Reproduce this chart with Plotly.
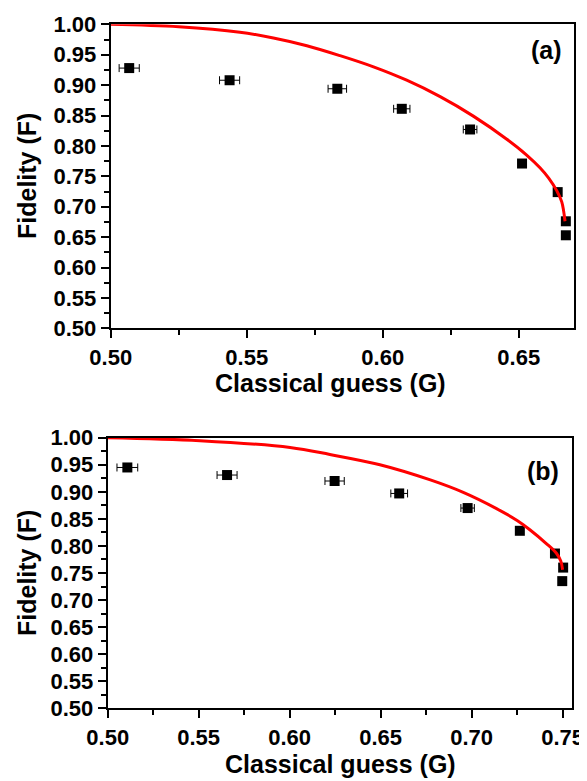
import plotly.graph_objects as go

# ---- panel (a): measured points ----
G_A = [0.5068, 0.5437, 0.5833, 0.6070, 0.6321, 0.6512, 0.6643, 0.6673, 0.6673]
F_A = [0.928, 0.908, 0.894, 0.861, 0.827, 0.771, 0.724, 0.676, 0.653]
G_A_ERR = [0.0037, 0.0037, 0.0034, 0.0030, 0.0025, 0.0010, 0.0010, 0.0008, 0.0008]

# panel (a): theory curve
CURVE_A_G = [0.500, 0.525, 0.5475, 0.5598, 0.5721, 0.5843, 0.5966, 0.6088,
             0.6211, 0.6333, 0.6456, 0.6529, 0.6578, 0.6610, 0.6640, 0.6658, 0.6670]
CURVE_A_F = [1.000, 0.996, 0.987, 0.9775, 0.9648, 0.9484, 0.930, 0.908,
             0.881, 0.849, 0.811, 0.785, 0.764, 0.747, 0.726, 0.708, 0.676]

# ---- panel (b): measured points ----
G_B = [0.5108, 0.5656, 0.6247, 0.6602, 0.6978, 0.7265, 0.7458, 0.7503, 0.7498]
F_B = [0.945, 0.931, 0.920, 0.897, 0.870, 0.828, 0.786, 0.760, 0.735]
G_B_ERR = [0.0057, 0.0055, 0.0053, 0.0046, 0.0037, 0.0015, 0.0015, 0.0010, 0.0010]

# panel (b): theory curve
CURVE_B_G = [0.500, 0.5507, 0.6002, 0.6221, 0.6496, 0.6773, 0.6954, 0.7137,
             0.7250, 0.7320, 0.7412, 0.7467, 0.7490, 0.7500]
CURVE_B_F = [1.000, 0.9945, 0.982, 0.969, 0.950, 0.922, 0.899, 0.869,
             0.847, 0.830, 0.804, 0.786, 0.772, 0.756]

X_RANGE_A = [0.5, 0.6703]
X_RANGE_B = [0.5, 0.7550]
Y_RANGE = [0.5, 1.0]

FONT = "Liberation Sans"
# page body keeps an 8px margin, so the figure is a bit smaller than the window
OFF = 8
W, H = 587 - OFF, 781 - OFF


def px_x(x):
    return (x - OFF) / W


def px_y(y):
    return 1 - (y - OFF) / H


def add_panel(fig, xa, ya, g, f, err, cg, cf):
    fig.add_trace(go.Scatter(
        x=g, y=f, mode="markers", xaxis=xa, yaxis=ya,
        marker=dict(symbol="square", size=10, color="black"),
        error_x=dict(type="data", array=err, color="black", thickness=1, width=4),
        cliponaxis=False, showlegend=False,
    ))
    fig.add_trace(go.Scatter(
        x=cg, y=cf, mode="lines", xaxis=xa, yaxis=ya,
        line=dict(color="#ff0000", width=3, shape="spline", smoothing=1.0),
        cliponaxis=False, showlegend=False,
    ))


def main_axis(domain, rng, anchor):
    return dict(
        domain=domain, range=rng, anchor=anchor, automargin=False,
        tick0=0.5, dtick=0.05, tickformat=".2f",
        ticks="outside", ticklen=8, tickwidth=2, tickcolor="black",
        showline=True, linewidth=2, linecolor="black", mirror=True,
        showgrid=False, zeroline=False,
        tickfont=dict(family=FONT, size=22, color="black", weight="bold"),
        minor=dict(tick0=0.5, dtick=0.025, ticks="outside", ticklen=5,
                   tickwidth=1.5, tickcolor="black", showgrid=False),
    )


def inner_axis(domain, rng, overlay, anchor, side):
    return dict(
        domain=domain, range=rng, overlaying=overlay, anchor=anchor, side=side,
        automargin=False,
        tick0=0.5, dtick=0.05, ticks="inside", ticklen=8, tickwidth=2,
        tickcolor="black", showticklabels=False, showline=False,
        showgrid=False, zeroline=False,
        minor=dict(tick0=0.5, dtick=0.025, ticks="inside", ticklen=5,
                   tickwidth=1.5, tickcolor="black", showgrid=False),
    )


def text_at(text, x, y, angle=0, xanchor="center"):
    return dict(text=text, x=px_x(x), y=px_y(y), xref="paper", yref="paper",
                xanchor=xanchor, yanchor="middle", textangle=angle,
                showarrow=False,
                font=dict(family=FONT, size=25, color="black", weight="bold"))


fig = go.Figure()
add_panel(fig, "x", "y", G_A, F_A, G_A_ERR, CURVE_A_G, CURVE_A_F)
add_panel(fig, "x2", "y2", G_B, F_B, G_B_ERR, CURVE_B_G, CURVE_B_F)

xdom_a = [px_x(110.7), px_x(574)]
ydom_a = [px_y(328.3), px_y(24.3)]
xdom_b = [px_x(107.7), px_x(571.7)]
ydom_b = [px_y(708.3), px_y(437.7)]

fig.update_layout(
    width=W, height=H,
    margin=dict(l=0, r=0, t=0, b=0, autoexpand=False),
    plot_bgcolor="white", paper_bgcolor="white",
    xaxis=main_axis(xdom_a, X_RANGE_A, "y"),
    yaxis=main_axis(ydom_a, Y_RANGE, "x"),
    xaxis2=main_axis(xdom_b, X_RANGE_B, "y2"),
    yaxis2=main_axis(ydom_b, Y_RANGE, "x2"),
    xaxis3=inner_axis(xdom_a, X_RANGE_A, "x", "y", "top"),
    yaxis3=inner_axis(ydom_a, Y_RANGE, "y", "x", "right"),
    xaxis4=inner_axis(xdom_b, X_RANGE_B, "x2", "y2", "top"),
    yaxis4=inner_axis(ydom_b, Y_RANGE, "y2", "x2", "right"),
    annotations=[
        text_at("Classical guess (G)", 330, 383),
        text_at("Classical guess (G)", 340, 764),
        text_at("Fidelity (F)", 27, 176, angle=-90),
        text_at("Fidelity (F)", 27, 573, angle=-90),
        text_at("(a)", 564, 50, xanchor="right"),
        text_at("(b)", 561, 471, xanchor="right"),
    ],
)

fig.write_html("out.html")
